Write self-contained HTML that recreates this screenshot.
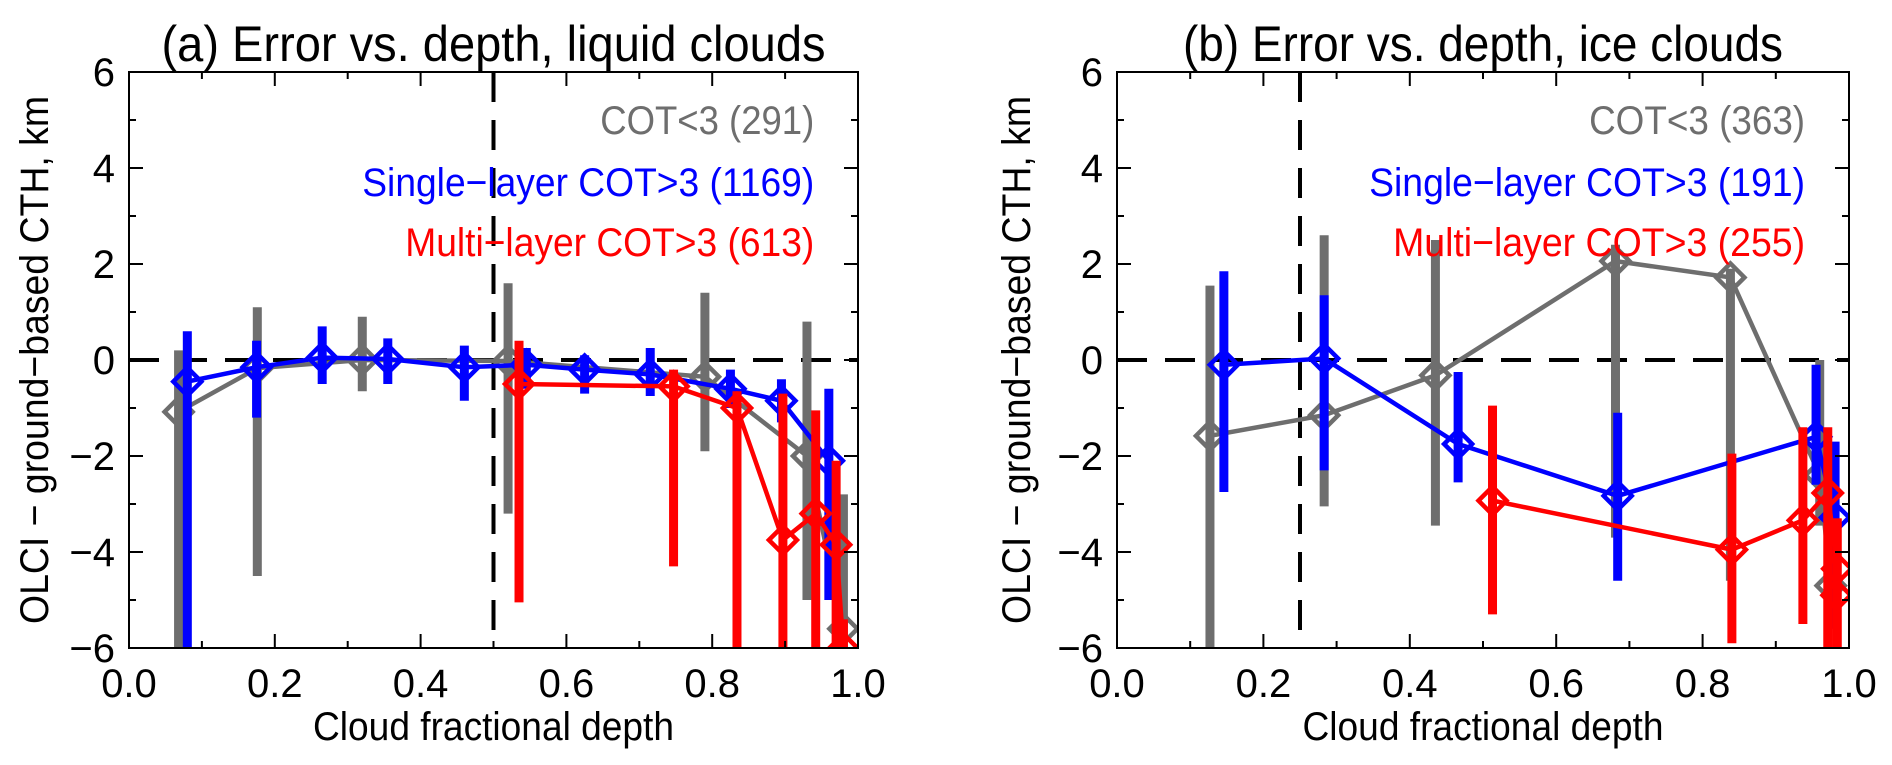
<!DOCTYPE html>
<html><head><meta charset="utf-8"><style>
body{margin:0;background:#fff}
svg{display:block;font-family:"Liberation Sans",sans-serif}
</style></head><body>
<svg id="chart" width="1892" height="765" viewBox="0 0 1892 765"></svg>
<script>
// ---- data: panel (a) liquid clouds ----
const aGrayX=[0.068,0.176,0.32,0.52,0.79,0.93,0.98];
const aGrayY=[-1.08,-0.17,0.0,-0.02,-0.35,-2.0,-5.6];
const aGrayHi=[0.2,1.1,0.9,1.6,1.4,0.8,-2.8];
const aGrayLo=[-6,-4.5,-0.65,-3.2,-1.9,-5.0,-6];
const aBlueX=[0.08,0.175,0.265,0.355,0.46,0.545,0.625,0.715,0.825,0.895,0.96];
const aBlueY=[-0.45,-0.15,0.05,0.02,-0.15,-0.1,-0.2,-0.3,-0.6,-0.85,-2.1];
const aBlueHi=[0.6,0.4,0.7,0.45,0.3,0.25,0.1,0.25,-0.2,-0.4,-0.6];
const aBlueLo=[-6,-1.2,-0.5,-0.5,-0.85,-0.6,-0.7,-0.75,-1.0,-1.3,-5.0];
const aRedX=[0.535,0.747,0.834,0.897,0.942,0.97,0.98];
const aRedY=[-0.5,-0.55,-1.0,-3.75,-3.2,-3.85,-6.0];
const aRedHi=[0.4,-0.2,-0.65,-0.7,-1.05,-2.1,-5.4];
const aRedLo=[-5.05,-4.3,-6,-6,-6,-6,-6];
// ---- data: panel (b) ice clouds ----
const bGrayX=[0.127,0.283,0.435,0.681,0.838,0.96,0.975];
const bGrayY=[-1.58,-1.15,-0.32,2.06,1.72,-2.4,-4.7];
const bGrayHi=[1.55,2.6,2.5,2.4,1.9,0.0,-2.5];
const bGrayLo=[-6,-3.05,-3.45,-3.7,-4.6,-3.45,-5.6];
const bBlueX=[0.146,0.283,0.466,0.684,0.955,0.981];
const bBlueY=[-0.1,0.03,-1.75,-2.83,-1.6,-3.28];
const bBlueHi=[1.85,1.35,-0.25,-1.1,-0.1,-1.7];
const bBlueLo=[-2.75,-2.3,-2.55,-4.6,-2.6,-5.6];
const bRedX=[0.513,0.84,0.937,0.971,0.984,0.983];
const bRedY=[-2.93,-3.95,-3.34,-2.77,-4.35,-4.9];
const bRedHi=[-0.95,-1.95,-1.4,-1.4,-3.3,-3.3];
const bRedLo=[-5.3,-5.9,-5.5,-6,-6,-6];
const xTicks=["0.0","0.2","0.4","0.6","0.8","1.0"];
const yTicks=["-6","-4","-2","0","2","4","6"];

const NS="http://www.w3.org/2000/svg";
const svg=document.getElementById('chart');
function mk(tag,attrs,parent){const e=document.createElementNS(NS,tag);for(const k in attrs)e.setAttribute(k,attrs[k]);(parent||svg).appendChild(e);return e;}
const GRAY="#6e6e6e",BLUE="#0000ff",RED="#ff0000";
const TOP=72,BOT=648;

function panel(id,L,R,title,titleW,vline,series,legend,ytx){
  const g=mk('g',{});
  
  
  const sx=v=>L+v*(R-L);
  const sy=v=>TOP+(6-v)/12*(BOT-TOP);
  const clip=mk('clipPath',{id:'clip'+id},g);
  mk('rect',{x:L,y:TOP,width:R-L,height:BOT-TOP},clip);
  const t=mk('text',{x:(L+R)/2,y:61,'font-size':50,'text-anchor':'middle',fill:'#000',textLength:titleW,lengthAdjust:'spacingAndGlyphs'},g);
  t.textContent=title;
  
  
  const hl=mk('line',{x1:L,x2:R,y1:sy(0),y2:sy(0),stroke:'#000','stroke-width':4,'stroke-dasharray':'30,18'},g);
  
  
  const vl=mk('line',{x1:sx(vline),x2:sx(vline),y1:TOP,y2:BOT,stroke:'#000','stroke-width':4,'stroke-dasharray':'30,18'},g);
  
  
  const sg=mk('g',{'clip-path':'url(#clip'+id+')'},g);
  series.forEach(s=>{
    const sgg=mk('g',{},sg);
    
    
    s.X.forEach((x,i)=>{
      const b=mk('line',{x1:sx(x),x2:sx(x),y1:sy(s.Hi[i]),y2:sy(s.Lo[i]),stroke:s.c,'stroke-width':9},sgg);
      
      
    });
    const pl=mk('polyline',{points:s.X.map((x,i)=>sx(x)+','+sy(s.Y[i])).join(' '),fill:'none',stroke:s.c,'stroke-width':4.5},sgg);
    
    
    s.X.forEach((x,i)=>{
      const cx=sx(x),cy=sy(s.Y[i]),d=14;
      const p=mk('polygon',{points:`${cx},${cy-d} ${cx+d},${cy} ${cx},${cy+d} ${cx-d},${cy}`,fill:'none',stroke:s.c,'stroke-width':4.5},sgg);
      
      
    });
  });
  const fr=mk('rect',{x:L,y:TOP,width:R-L,height:BOT-TOP,fill:'none',stroke:'#000','stroke-width':2},g);
  
  
  for(let k=0;k<=10;k++){
    const x=sx(k/10),len=k%2===0?14:7;
    mk('line',{x1:x,x2:x,y1:BOT,y2:BOT-len,stroke:'#000','stroke-width':2},g);
    mk('line',{x1:x,x2:x,y1:TOP,y2:TOP+len,stroke:'#000','stroke-width':2},g);
  }
  xTicks.forEach((lab,i)=>{
    const tx=mk('text',{x:sx(i*0.2),y:697,'font-size':40,'text-anchor':'middle'},g);
    tx.textContent=lab;
    
    
  });
  for(let v=-6;v<=6;v++){
    const y=sy(v),len=v%2===0?14:7;
    mk('line',{x1:L,x2:L+len,y1:y,y2:y,stroke:'#000','stroke-width':2},g);
    mk('line',{x1:R,x2:R-len,y1:y,y2:y,stroke:'#000','stroke-width':2},g);
  }
  yTicks.forEach(lab=>{
    const v=parseFloat(lab);
    const ty=mk('text',{x:L-14,y:sy(v)+14,'font-size':40,'text-anchor':'end'},g);
    ty.textContent=lab.replace('-','\u2212');
    
    
  });
  const xt=mk('text',{x:(L+R)/2,y:740,'font-size':40,'text-anchor':'middle',textLength:361,lengthAdjust:'spacingAndGlyphs'},g);
  xt.textContent='Cloud fractional depth';
  
  
  const yt=mk('text',{x:0,y:0,'font-size':40,'text-anchor':'middle',textLength:528,lengthAdjust:'spacingAndGlyphs',transform:`translate(${ytx},${(TOP+BOT)/2}) rotate(-90)`},g);
  yt.textContent='OLCI \u2212 ground\u2212based CTH, km';
  
  
  legend.forEach((l,i)=>{
    const lt=mk('text',{x:L+0.94*(R-L),y:[134,196,256][i],'font-size':40,'text-anchor':'end',fill:l.c,textLength:l.w,lengthAdjust:'spacingAndGlyphs'},g);
    lt.textContent=l.t;
    
    
  });
}
panel('a',129,858,'(a) Error vs. depth, liquid clouds',664,0.5,[
  {name:'series-cot-lt3',c:GRAY,X:aGrayX,Y:aGrayY,Hi:aGrayHi,Lo:aGrayLo},
  {name:'series-single-layer',c:BLUE,X:aBlueX,Y:aBlueY,Hi:aBlueHi,Lo:aBlueLo},
  {name:'series-multi-layer',c:RED,X:aRedX,Y:aRedY,Hi:aRedHi,Lo:aRedLo}],
  [{t:'COT<3 (291)',c:GRAY,w:214},{t:'Single\u2212layer COT>3 (1169)',c:BLUE,w:452},{t:'Multi\u2212layer COT>3 (613)',c:RED,w:409}],48);
panel('b',1117,1849,'(b) Error vs. depth, ice clouds',600,0.25,[
  {name:'series-cot-lt3',c:GRAY,X:bGrayX,Y:bGrayY,Hi:bGrayHi,Lo:bGrayLo},
  {name:'series-single-layer',c:BLUE,X:bBlueX,Y:bBlueY,Hi:bBlueHi,Lo:bBlueLo},
  {name:'series-multi-layer',c:RED,X:bRedX,Y:bRedY,Hi:bRedHi,Lo:bRedLo}],
  [{t:'COT<3 (363)',c:GRAY,w:216},{t:'Single\u2212layer COT>3 (191)',c:BLUE,w:436},{t:'Multi\u2212layer COT>3 (255)',c:RED,w:412}],1030);
</script>
</body></html>
